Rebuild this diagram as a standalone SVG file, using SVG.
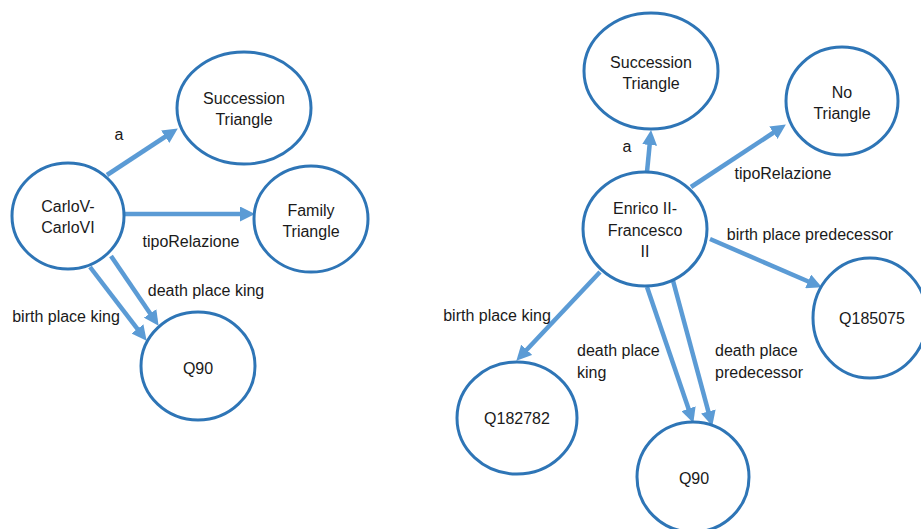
<svg xmlns="http://www.w3.org/2000/svg" width="921" height="529" viewBox="0 0 921 529">
  <style>
    .node ellipse { fill: #ffffff; stroke: #2e75b6; stroke-width: 3; }
    .node text, .label { font-family: "Liberation Sans", Arial, sans-serif; font-size: 16px; fill: #1a1a1a; }
    .node text { text-anchor: middle; }
    .edge { fill: none; stroke: #5b9bd5; stroke-width: 4.5; marker-end: url(#arrow); }
  </style>
  <defs>
    <marker id="arrow" markerUnits="userSpaceOnUse" markerWidth="15" markerHeight="15" refX="4" refY="7.5" orient="auto">
      <path d="M0,0 L15,7.5 L0,15 z" fill="#5b9bd5"/>
    </marker>
  </defs>
  <rect width="921" height="529" fill="#ffffff"/>

  <!-- connectors -->
  <g id="connectors">
    <line class="edge" x1="107" y1="175" x2="168.6" y2="134.5"/>
    <line class="edge" x1="124" y1="214" x2="244" y2="214"/>
    <line class="edge" x1="111" y1="256" x2="152.4" y2="316.7"/>
    <line class="edge" x1="90" y1="267" x2="139.9" y2="332.1"/>

    <line class="edge" x1="647" y1="172" x2="650" y2="141"/>
    <line class="edge" x1="691" y1="187" x2="776.7" y2="130.5"/>
    <line class="edge" x1="710" y1="239" x2="811.8" y2="283"/>
    <line class="edge" x1="600" y1="272" x2="523.9" y2="352.7"/>
    <line class="edge" x1="647" y1="287" x2="689.8" y2="412.5"/>
    <line class="edge" x1="672" y1="277" x2="709.4" y2="415.3"/>
  </g>

  <!-- edge labels -->
  <g id="labels">
    <text class="label" x="119" y="140" text-anchor="middle">a</text>
    <text class="label" x="191" y="247" text-anchor="middle">tipoRelazione</text>
    <text class="label" x="206" y="296" text-anchor="middle">death place king</text>
    <text class="label" x="66" y="322" text-anchor="middle">birth place king</text>

    <text class="label" x="627" y="152" text-anchor="middle">a</text>
    <text class="label" x="783" y="179" text-anchor="middle">tipoRelazione</text>
    <text class="label" x="810" y="240" text-anchor="middle">birth place predecessor</text>
    <text class="label" x="497" y="321" text-anchor="middle">birth place king</text>
    <text class="label" x="577" y="356">death place</text>
    <text class="label" x="577" y="378">king</text>
    <text class="label" x="715" y="356">death place</text>
    <text class="label" x="715" y="378">predecessor</text>
  </g>

  <!-- left graph -->
  <g id="carlo" class="node">
    <ellipse cx="68" cy="216" rx="56" ry="53"/>
    <text x="68" y="212">CarloV-</text>
    <text x="68" y="233">CarloVI</text>
  </g>
  <g id="succession-left" class="node">
    <ellipse cx="244" cy="108" rx="67" ry="56"/>
    <text x="244" y="104">Succession</text>
    <text x="244" y="125">Triangle</text>
  </g>
  <g id="family" class="node">
    <ellipse cx="311" cy="219" rx="57" ry="53"/>
    <text x="311" y="216">Family</text>
    <text x="311" y="237">Triangle</text>
  </g>
  <g id="q90-left" class="node">
    <ellipse cx="198" cy="366" rx="57" ry="54"/>
    <text x="198" y="374">Q90</text>
  </g>

  <!-- right graph -->
  <g id="enrico" class="node">
    <ellipse cx="645" cy="229" rx="62" ry="57"/>
    <text x="645" y="214">Enrico II-</text>
    <text x="645" y="236">Francesco</text>
    <text x="645" y="257">II</text>
  </g>
  <g id="succession-right" class="node">
    <ellipse cx="651" cy="71" rx="67" ry="58"/>
    <text x="651" y="68">Succession</text>
    <text x="651" y="89">Triangle</text>
  </g>
  <g id="no-triangle" class="node">
    <ellipse cx="842" cy="101" rx="56" ry="54"/>
    <text x="842" y="98">No</text>
    <text x="842" y="119">Triangle</text>
  </g>
  <g id="q185075" class="node">
    <ellipse cx="870" cy="318" rx="57" ry="60"/>
    <text x="872" y="324">Q185075</text>
  </g>
  <g id="q182782" class="node">
    <ellipse cx="517" cy="418" rx="60" ry="56"/>
    <text x="517" y="424">Q182782</text>
  </g>
  <g id="q90-right" class="node">
    <ellipse cx="693" cy="477" rx="56" ry="55"/>
    <text x="694" y="484">Q90</text>
  </g>
</svg>
